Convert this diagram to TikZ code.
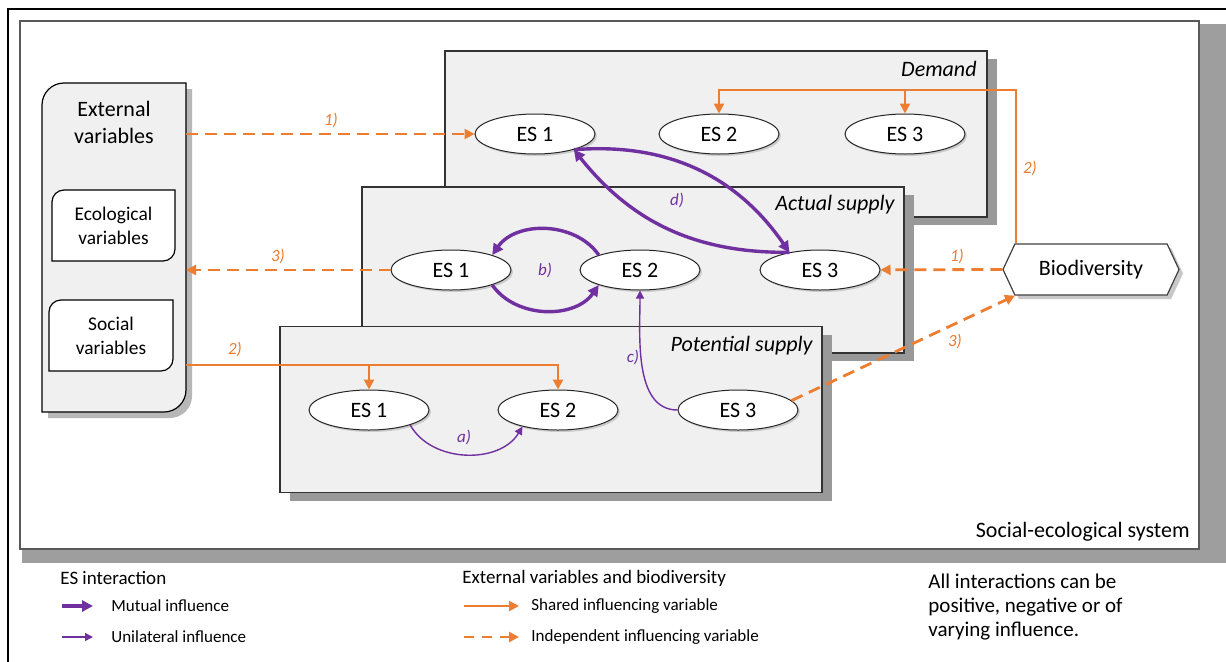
\documentclass[tikz,border=0pt]{standalone}
\usepackage{fontspec}
\setmainfont{Carlito}
\usetikzlibrary{arrows.meta,shapes.geometric,shapes.symbols,shadows}

\definecolor{esorange}{HTML}{ED7D31}
\definecolor{espurple}{HTML}{7030A0}
\definecolor{boxgray}{HTML}{F0F0F0}

% box with rounded top left and bottom right corners, drawn round an empty node
\newcommand{\leafbox}[3][]{%
  \draw[#1] (#2.south west) -- ([yshift=-#3]#2.north west)
    arc[start angle=180, end angle=90, radius=#3] -- (#2.north east)
    -- ([yshift=#3]#2.south east)
    arc[start angle=0, end angle=-90, radius=#3] -- cycle;}

\tikzset{
  bodytext/.style={font=\fontsize{11}{13.5}\selectfont},
  smalltext/.style={font=\fontsize{9.7}{12}\selectfont},
  holder/.style={inner sep=0pt, outer sep=0pt},
  panel/.style={holder, draw=black!80, fill=boxgray, line width=0.6pt,
    minimum width=271pt, minimum height=83pt,
    drop shadow={shadow xshift=5pt, shadow yshift=-4pt, fill=black!40, opacity=1}},
  paneltitle/.style={anchor=east, inner sep=0pt, font=\fontsize{11}{13.5}\selectfont\itshape},
  es/.style={ellipse, draw=black!85, fill=white, line width=0.5pt, bodytext,
    minimum width=60pt, minimum height=20pt, inner sep=0pt,
    drop shadow={shadow xshift=1pt, shadow yshift=-1pt, fill=black!30, opacity=0.6}},
  mutual/.style={draw=espurple, line width=1.7pt, -{Triangle[length=5.5pt,width=5.5pt]}},
  unilat/.style={draw=espurple, line width=0.7pt, -{Triangle[length=4pt,width=4pt]}},
  shared/.style={draw=esorange, line width=1.3pt, -{Triangle[length=5pt,width=5pt]}},
  indep/.style={shared, line width=1.4pt, dash pattern=on 6pt off 3.5pt},
  num/.style={font=\fontsize{8.5}{10}\selectfont\itshape, text=esorange, inner sep=0pt},
  nump/.style={num, text=espurple},
  legend/.style={anchor=west, inner sep=0pt, font=\fontsize{8.5}{10}\selectfont},
  legendhead/.style={anchor=west, inner sep=0pt, font=\fontsize{9.5}{11}\selectfont},
}

\begin{document}
\begin{tikzpicture}[x=0.5pt, y=0.5pt]
\useasboundingbox (0,0) rectangle (1226,661);

% frame and social-ecological system
\draw[line width=1pt] (8,-10) |- (1240,652);
\fill[black!38] (22,98) rectangle (1240,637);
\node[holder, draw=black!65, fill=white, line width=0.7pt, minimum width=589.5pt, minimum height=264pt] (ses) at (609.5,376) {};
\node[bodytext, anchor=east, inner sep=0pt] (sestitle) at (1190,129) {Social-ecological system};

% external variables
\node[holder, minimum width=72pt, minimum height=164.5pt] (ext) at (114,413.5) {};
\leafbox[draw=black, fill=boxgray, line width=0.6pt,
  drop shadow={shadow xshift=3pt, shadow yshift=-3pt, fill=black!35, opacity=0.8}]{ext}{11pt}
\node[bodytext, align=center] (exttitle) at (114,538.5) {External\\variables};
\node[holder, minimum width=61.5pt, minimum height=35.5pt] (eco) at (113.5,435.5) {};
\leafbox[draw=black, fill=white, line width=0.6pt]{eco}{6pt}
\node[smalltext, align=center] (ecotext) at (eco) {Ecological\\variables};
\node[holder, minimum width=62pt, minimum height=35.5pt] (soc) at (111,325.5) {};
\leafbox[draw=black, fill=white, line width=0.6pt]{soc}{6pt}
\node[smalltext, align=center] (soctext) at (soc) {Social\\variables};

% the three layers
\node[panel] (dem) at (716,527) {};
\node[paneltitle] (demtitle) at ([xshift=-5pt,yshift=-9pt]dem.north east) {Demand};
\node[panel] (act) at (633,391) {};
\node[paneltitle] (acttitle) at ([xshift=-4.5pt,yshift=-9pt]act.north east) {Actual supply};
\node[panel] (pot) at (551,251.5) {};
\node[paneltitle] (pottitle) at ([xshift=-4.5pt,yshift=-9.5pt]pot.north east) {Potential supply};

\node[es] (d1) at (535,527) {ES 1};
\node[es] (d2) at (719,527) {ES 2};
\node[es] (d3) at (905,527) {ES 3};
\node[es] (a1) at (451,391) {ES 1};
\node[es] (a2) at (640,391) {ES 2};
\node[es] (a3) at (820,391) {ES 3};
\node[es] (p1) at (369,251) {ES 1};
\node[es] (p2) at (558,251) {ES 2};
\node[es] (p3) at (738,251) {ES 3};

\node[signal, signal to=east and west, signal pointer angle=130, draw=black!75, fill=white,
  line width=0.6pt, minimum width=88pt, minimum height=25.5pt, inner sep=0pt, bodytext,
  drop shadow={shadow xshift=2pt, shadow yshift=-2pt, fill=black!30, opacity=0.7}] (bio) at (1091,391.5) {Biodiversity};

% external variables and biodiversity
\coordinate (socout) at (186,296);
\coordinate (biotop) at (1016,571);
\draw[indep] (ext.east |- d1) -- (d1);
\draw[indep] (a1) -- (ext.east |- a1);
\draw[shared] (socout) -| (p2.north);
\draw[shared] (p1.north |- socout) -- (p1.north);
\draw[shared] (bio.north -| biotop) -- (biotop) -| (d2.north);
\draw[shared] (d3.north |- biotop) -- (d3.north);
\draw[indep] (bio.west) -- (a3);
\draw[indep] (p3.10) -- ([xshift=-38pt]bio.south);
\node[num] (n1) at (331,541) {1)};
\node[num] (n2) at (278,405) {3)};
\node[num] (n3) at (235,312) {2)};
\node[num] (n4) at (1030,493) {2)};
\node[num] (n5) at (957,405) {1)};
\node[num] (n6) at (955,320) {3)};

% interactions between services
\draw[mutual] (d1.-22) to[bend left=30] (a3.150);
\draw[mutual] (a3.150) to[bend left=26] (d1.-22);
\draw[mutual] (a2.160) to[bend right=55] (a1.20);
\draw[mutual] (a1.-20) to[bend right=55] (a2.-160);
\draw[unilat] (p1.-20) to[bend right=60] (p2.-155);
\draw[unilat] (p3.west) to[out=180, in=-90, looseness=0.9] (a2.south);
\node[nump] (la) at (464,224) {a)};
\node[nump] (lb) at (545,391) {b)};
\node[nump] (lc) at (633,304) {c)};
\node[nump] (ld) at (677,461) {d)};

% legend
\node[legendhead] (leghead1) at (60,83) {ES interaction};
\node[legend] (legmut) at (111,55) {Mutual influence};
\node[legend] (leguni) at (111,24) {Unilateral influence};
\draw[mutual] ([xshift=-24.5pt]legmut.west) -- ([xshift=-9pt]legmut.west);
\draw[unilat] ([xshift=-24.5pt]leguni.west) -- ([xshift=-9pt]leguni.west);
\node[legendhead] (leghead2) at (462,83) {External variables and biodiversity};
\node[legend] (legsh) at (531,55) {Shared influencing variable};
\node[legend] (legind) at (531,24) {Independent influencing variable};
\draw[shared] ([xshift=-33.5pt]legsh.west) -- ([xshift=-6pt]legsh.west);
\draw[indep, dash pattern=on 5pt off 4pt] ([xshift=-33.5pt]legind.west) -- ([xshift=-6pt]legind.west);
\node[anchor=west, align=left, inner sep=0pt, font=\fontsize{10.5}{12}\selectfont] (note) at (928,54)
  {All interactions can be\\positive, negative or of\\varying influence.};
\end{tikzpicture}
\end{document}
